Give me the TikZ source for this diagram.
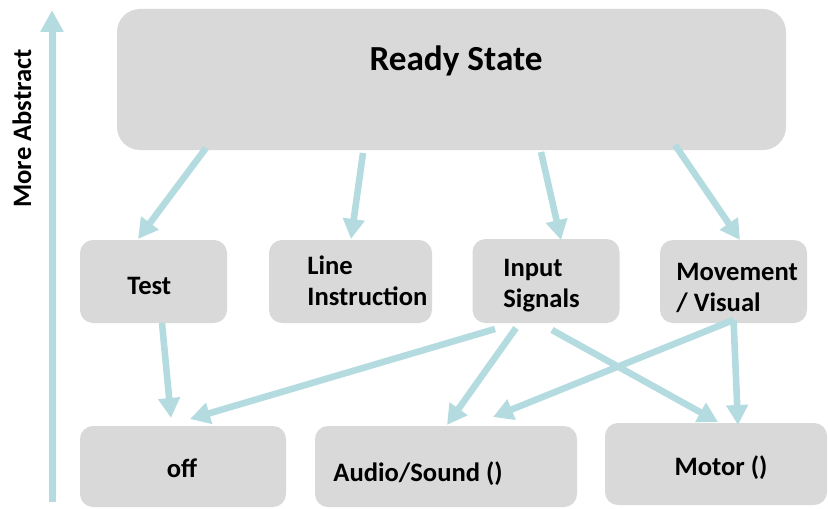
\documentclass[tikz,border=0pt]{standalone}
\usepackage{fontspec}
\setmainfont{Carlito}
\usepackage{tikz}
\usetikzlibrary{calc, positioning, arrows.meta}
\definecolor{boxgray}{RGB}{217,217,217}
\definecolor{flowblue}{RGB}{180,220,224}

\begin{document}
\begin{tikzpicture}[x=0.5pt,y=-0.5pt]
  \tikzset{box/.style={fill=boxgray,rounded corners=6.5pt,inner sep=0,outer sep=0},
    flow/.style={draw=flowblue,line width=3.3pt,-{Triangle[length=10pt,width=10.5pt]}},
    txt/.style={font=\fontsize{13.3}{15.5}\selectfont\bfseries,inner sep=0,align=left}}
  \useasboundingbox (0,0) rectangle (828,508);
  % boxes
  \node[box,rounded corners=11.5pt,minimum width=334.5pt,minimum height=70.5pt](ready) at (451.5,79.5) {};
  \node[box,minimum width=73.5pt,minimum height=41.5pt](test) at (153.5,281.5) {};
  \node[box,minimum width=81.5pt,minimum height=41.5pt](line) at (350.5,281.5) {};
  \node[box,minimum width=73.5pt,minimum height=42pt](input) at (546,281) {};
  \node[box,minimum width=73.5pt,minimum height=41.5pt](move) at (733.5,281.5) {};
  \node[box,minimum width=103pt,minimum height=40.5pt](off) at (183,466.5) {};
  \node[box,minimum width=131pt,minimum height=40.5pt](audio) at (446,466.5) {};
  \node[box,minimum width=111pt,minimum height=41pt](motor) at (716,464) {};
  % texts
  \node[txt,font=\fontsize{17.6}{20}\selectfont\bfseries,anchor=base](ready-txt) at (456,70) {Ready State};
  \node[txt,anchor=base west](test-txt) at (127,294) {Test};
  \node[txt,anchor=west](line-txt) at (307,281) {Line\\Instruction};
  \node[txt,anchor=west](input-txt) at (503,286) {Input\\Signals};
  \node[txt,anchor=west](move-txt) at (676,288) {Movement\\/ Visual};
  \node[txt,anchor=base](off-txt) at (182,477) {off};
  \node[txt,anchor=base west](audio-txt) at (333,481) {Audio/Sound ()};
  \node[txt,anchor=base](motor-txt) at (721,475) {Motor ()};
  % abstraction axis
  \coordinate (axis-low) at (52,502);
  \coordinate (axis-high) at (52,10);
  \draw[flow,line width=3.5pt,-{Triangle[length=11pt,width=11pt]}] (axis-low) -- (axis-high);
  \node[txt,rotate=90,anchor=base](axis-txt) at (31,128.5) {More Abstract};
  % ready state to the four tasks
  \draw[flow] ($(ready.south)+(-245.5,-2)$) -- ($(test.north)+(-15.5,-1)$);
  \draw[flow] ($(ready.south)+(-88.5,3)$) -- ($(line.north)+(0.5,-1)$);
  \draw[flow] ($(ready.south)+(89.5,2)$) -- ($(input.north)+(15,1)$);
  \draw[flow] ($(ready.south)+(223.5,-5)$) -- ($(move.north)+(6.5,0)$);
  % tasks to the outputs
  \draw[flow] ($(test.south)+(8.5,0)$) -- ($(off.north)+(-12,-8)$);
  \draw[flow] ($(input.south)+(-51,6)$) -- ($(off.north)+(7,-7)$);
  \draw[flow] ($(input.south)+(-30,5)$) -- ($(audio.north)+(1,-1)$);
  \draw[flow] ($(input.south)+(6,7)$) -- ($(motor.north)+(2,-1)$);
  \draw[flow] ($(move.south)+(0,-3)$) -- ($(audio.north)+(47,-9)$);
  \draw[flow] ($(move.south)+(0,-3)$) -- ($(motor.north)+(22,2)$);
\end{tikzpicture}
\end{document}
